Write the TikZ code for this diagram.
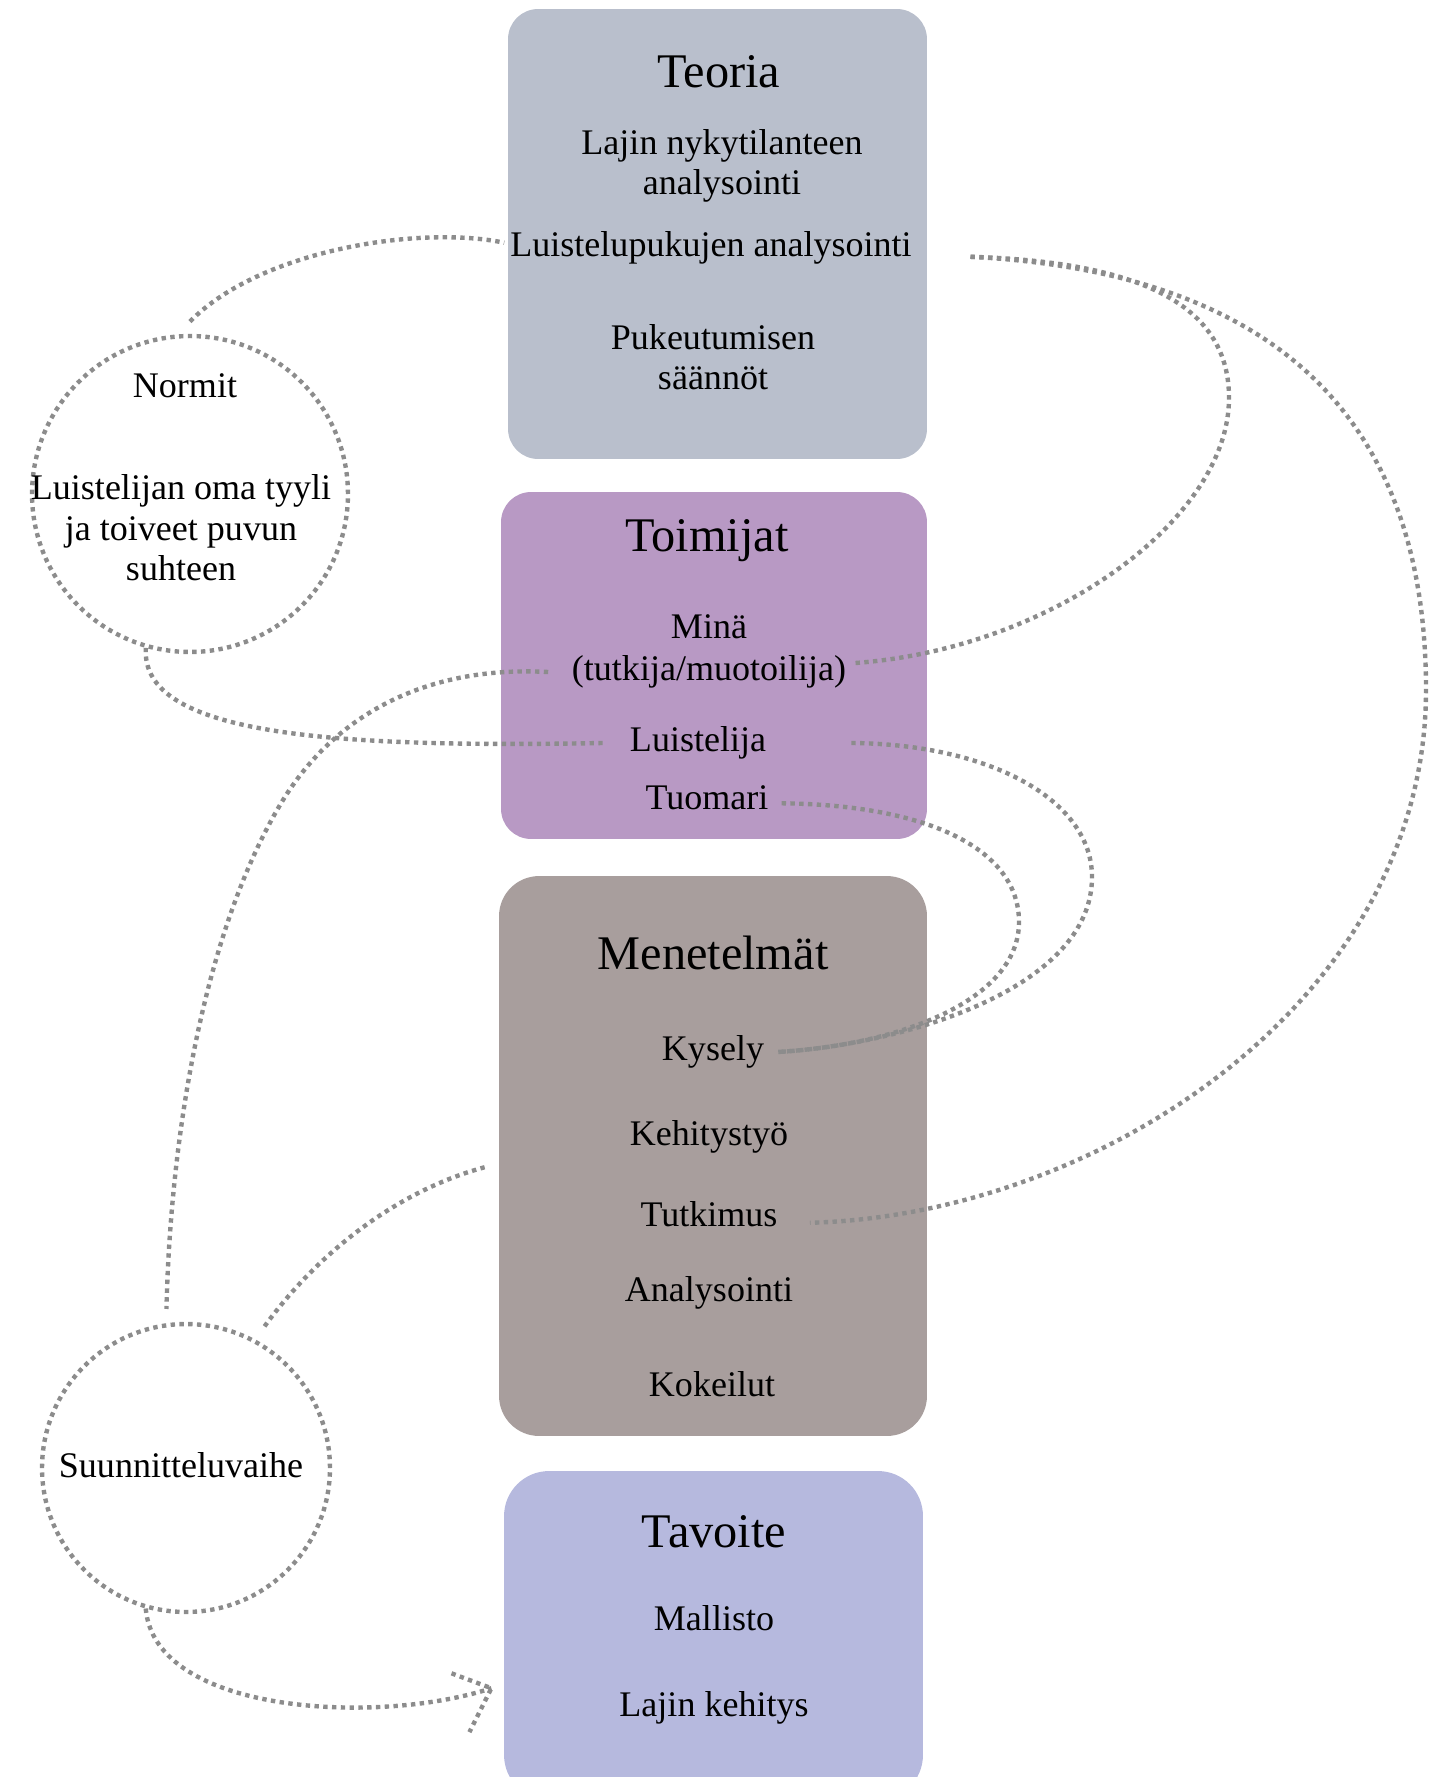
\documentclass[tikz,border=0pt]{standalone}
\usepackage{fontspec}
\setmainfont{Liberation Serif}

\definecolor{teoriavari}{HTML}{B9BFCC}
\definecolor{toimijavari}{HTML}{B899C4}
\definecolor{menetelmavari}{HTML}{A89E9D}
\definecolor{tavoitevari}{HTML}{B6B9DE}
\definecolor{viivavari}{HTML}{8C8C8C}

\begin{document}
\begin{tikzpicture}
    % 坐标单位按像素
    [x=0.02cm, y=-0.02cm,
    laatikko/.style={inner sep=0pt},
    otsikko/.style={font=\fontsize{27.5}{33}\selectfont},
    teksti/.style={font=\fontsize{20.5}{23}\selectfont, align=center},
    pisteet/.style={draw=viivavari, line width=2.5pt, dash pattern=on 2.5pt off 2.5pt},
    ympyra/.style={circle, pisteet, inner sep=0pt}]
    \useasboundingbox (0,0) rectangle (1455,1777);
    \clip (0,0) rectangle (1455,1777);
    % 绘制方框
    \node[laatikko, rounded corners=0.6cm, fill=teoriavari, minimum width=8.38cm, minimum height=9cm] (teoria) at (717.5,234) {};
    \node[laatikko, rounded corners=0.6cm, fill=toimijavari, minimum width=8.52cm, minimum height=6.94cm] (toimijat) at (714,665.5) {};
    \node[laatikko, rounded corners=0.8cm, fill=menetelmavari, minimum width=8.56cm, minimum height=11.2cm] (menetelmat) at (713,1156) {};
    \node[laatikko, rounded corners=0.9cm, fill=tavoitevari, minimum width=8.38cm, minimum height=6.58cm] (tavoite) at (713.5,1635.5) {};
    % 方框里的文字
    \node[otsikko] (teoriaots) at (719,72) {Teoria};
    \node[teksti] (lajin) at (722,166) {Lajin nykytilanteen\\analysointi};
    \node[teksti] (lupuk) at (711,248) {Luistelupukujen analysointi};
    \node[teksti] (pukeut) at (713,357) {Pukeutumisen\\säännöt};
    \node[otsikko] (toimijatots) at (707,541) {Toimijat};
    \node[teksti] (mina) at (709,627) {Minä};
    \node[teksti] (tutkija) at (709,672) {(tutkija/muotoilija)};
    \node[teksti] (luistelija) at (698,743) {Luistelija};
    \node[teksti] (tuomari) at (707,798) {Tuomari};
    \node[otsikko] (menetelmatots) at (713,953) {Menetelmät};
    \node[teksti] (kysely) at (713,1052) {Kysely};
    \node[teksti] (kehitys) at (709,1137) {Kehitystyö};
    \node[teksti] (tutkimus) at (709,1214) {Tutkimus};
    \node[teksti] (analysointi) at (709,1293) {Analysointi};
    \node[teksti] (kokeilut) at (712,1384) {Kokeilut};
    \node[otsikko] (tavoiteots) at (714,1532) {Tavoite};
    \node[teksti] (mallisto) at (714,1618) {Mallisto};
    \node[teksti] (lajinkeh) at (714,1708) {Lajin kehitys};
    % 绘制圆圈
    \node[ympyra, minimum size=6.32cm] (normitympyra) at (190,494) {};
    \node[ympyra, minimum size=5.76cm] (suunnympyra) at (186,1468) {};
    \node[teksti] (normit) at (185,386) {Normit};
    \node[teksti] (tyyli) at (181,528) {Luistelijan oma tyyli\\ja toiveet puvun\\suhteen};
    \node[teksti] (suunn) at (181,1465) {Suunnitteluvaihe};
    % 绘制点线连接
    \draw[pisteet] ([yshift=7pt]normitympyra.north) .. controls (260,250) and (420,225) .. ([yshift=3pt]lupuk.west);
    \coordinate (lupukoikea) at ([xshift=30pt,yshift=-5pt]lupuk.east);
    \draw[pisteet] (lupukoikea) .. controls (1150,262) and (1229,310) .. (1229,398)
        .. controls (1229,520) and (1050,650) .. ([yshift=5pt]tutkija.east);
    \draw[pisteet] (lupukoikea) .. controls (1230,270) and (1426,380) .. (1426,690)
        .. controls (1426,1000) and (1100,1215) .. ([xshift=15pt,yshift=-5pt]tutkimus.east);
    \draw[pisteet] ([xshift=-12pt]luistelija.west) .. controls (330,748) and (140,735) .. (normitympyra.254);
    \draw[pisteet] ([xshift=-10pt]tutkija.west) .. controls (420,665) and (330,720) .. (280,805)
        .. controls (200,940) and (170,1150) .. ([shift={(97:8pt)}]suunnympyra.97);
    \draw[pisteet] ([xshift=45pt]luistelija.east) .. controls (990,744) and (1092,800) .. (1092,877)
        .. controls (1092,990) and (900,1045) .. ([xshift=4pt]kysely.east);
    \draw[pisteet] ([xshift=4pt,yshift=-3pt]tuomari.east) .. controls (930,805) and (1019,850) .. (1019,922)
        .. controls (1019,1000) and (900,1045) .. ([xshift=4pt]kysely.east);
    \draw[pisteet] ([shift={(61:9pt)}]suunnympyra.61) .. controls (320,1250) and (400,1190) .. ([xshift=-8pt]menetelmat.183);
    % 箭头
    \coordinate (karki) at ([xshift=-7pt,yshift=-30pt]tavoite.west);
    \draw[pisteet] (suunnympyra.254) .. controls (155,1715) and (380,1725) .. (karki);
    \draw[pisteet] ([shift={(-22.7pt,8.5pt)}]karki) -- (karki) -- ([shift={(-12.5pt,-25pt)}]karki);
\end{tikzpicture}
\end{document}
